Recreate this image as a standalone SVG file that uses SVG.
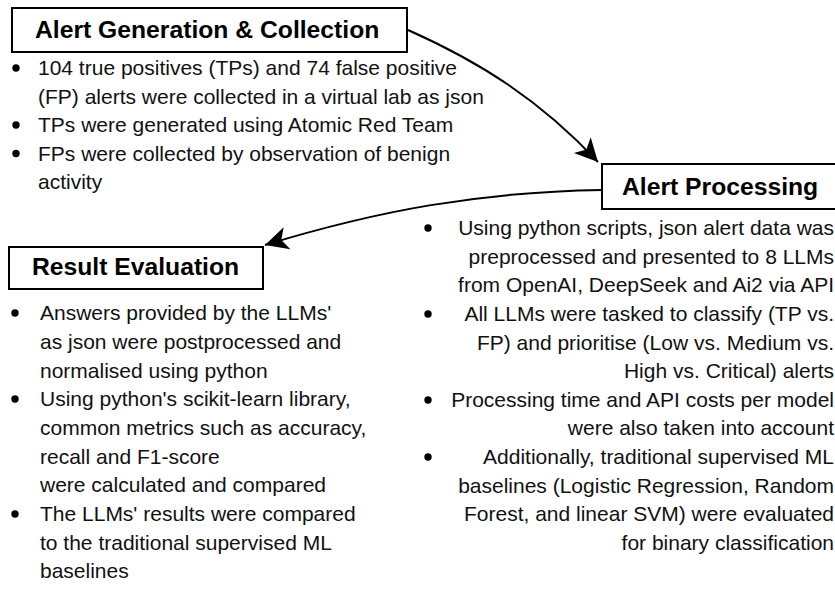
<svg xmlns="http://www.w3.org/2000/svg" width="835" height="592" viewBox="0 0 835 592">
  <style>
    .box { fill: #ffffff; stroke: #000000; stroke-width: 2; }
    .title { font-family: "Liberation Sans", Arial, sans-serif; font-size: 24.7px; font-weight: bold; fill: #000000; }
    .body { font-family: "Liberation Sans", Arial, sans-serif; font-size: 21px; fill: #111111; }
    .right { text-anchor: end; }
    .dot { fill: #000000; }
    .edge { fill: none; stroke: #000000; stroke-width: 2; }
  </style>
  <defs>
    <marker id="arrow" markerUnits="userSpaceOnUse" markerWidth="30" markerHeight="30" refX="0" refY="0" orient="auto" viewBox="-25 -15 30 30" overflow="visible">
      <path d="M0,0 L-23,-11.5 L-17,0 L-23,11.5 Z" fill="#000000"/>
    </marker>
  </defs>

  <rect width="835" height="592" fill="#ffffff"/>

  <!-- Stage 1 -->
  <g id="alert-generation">
    <rect class="box" x="12" y="8" width="395" height="44"/>
    <text class="title" x="35" y="38">Alert Generation &amp; Collection</text>
    <circle class="dot" cx="16" cy="68" r="3.7"/>
    <circle class="dot" cx="16" cy="125" r="3.7"/>
    <circle class="dot" cx="16" cy="153.5" r="3.7"/>
    <text class="body" x="38" y="75">104 true positives (TPs) and 74 false positive</text>
    <text class="body" x="38" y="103.5">(FP) alerts were collected in a virtual lab as json</text>
    <text class="body" x="38" y="132">TPs were generated using Atomic Red Team</text>
    <text class="body" x="38" y="160.5">FPs were collected by observation of benign</text>
    <text class="body" x="38" y="189">activity</text>
  </g>

  <!-- Stage 2 -->
  <g id="alert-processing">
    <rect class="box" x="602" y="164" width="250" height="45"/>
    <text class="title" x="622" y="195">Alert Processing</text>
    <circle class="dot" cx="428" cy="228" r="3.7"/>
    <circle class="dot" cx="428" cy="314" r="3.7"/>
    <circle class="dot" cx="428" cy="400" r="3.7"/>
    <circle class="dot" cx="428" cy="457" r="3.7"/>
    <text class="body right" x="834" y="235">Using python scripts, json alert data was</text>
    <text class="body right" x="834" y="264">preprocessed and presented to 8 LLMs</text>
    <text class="body right" x="834" y="292">from OpenAI, DeepSeek and Ai2 via API</text>
    <text class="body right" x="834" y="321">All LLMs were tasked to classify (TP vs.</text>
    <text class="body right" x="834" y="350">FP) and prioritise (Low vs. Medium vs.</text>
    <text class="body right" x="834" y="378">High vs. Critical) alerts</text>
    <text class="body right" x="834" y="407">Processing time and API costs per model</text>
    <text class="body right" x="834" y="435">were also taken into account</text>
    <text class="body right" x="834" y="464">Additionally, traditional supervised ML</text>
    <text class="body right" x="834" y="493">baselines (Logistic Regression, Random</text>
    <text class="body right" x="834" y="521">Forest, and linear SVM) were evaluated</text>
    <text class="body right" x="834" y="550">for binary classification</text>
  </g>

  <!-- Stage 3 -->
  <g id="result-evaluation">
    <rect class="box" x="9" y="247" width="254" height="42"/>
    <text class="title" x="32" y="275">Result Evaluation</text>
    <circle class="dot" cx="15" cy="313" r="3.7"/>
    <circle class="dot" cx="15" cy="399" r="3.7"/>
    <circle class="dot" cx="15" cy="514" r="3.7"/>
    <text class="body" x="40" y="320">Answers provided by the LLMs'</text>
    <text class="body" x="40" y="349">as json were postprocessed and</text>
    <text class="body" x="40" y="377.5">normalised using python</text>
    <text class="body" x="40" y="406">Using python's scikit-learn library,</text>
    <text class="body" x="40" y="435">common metrics such as accuracy,</text>
    <text class="body" x="40" y="463.5">recall and F1-score</text>
    <text class="body" x="40" y="492">were calculated and compared</text>
    <text class="body" x="40" y="521">The LLMs' results were compared</text>
    <text class="body" x="40" y="549.5">to the traditional supervised ML</text>
    <text class="body" x="40" y="578">baselines</text>
  </g>

  <!-- Connectors -->
  <g id="connectors">
    <path class="edge" d="M408,30 C480,62 540,100 598,162" marker-end="url(#arrow)"/>
    <path class="edge" d="M602,190 C480,192 380,210 265,245" marker-end="url(#arrow)"/>
  </g>
</svg>
